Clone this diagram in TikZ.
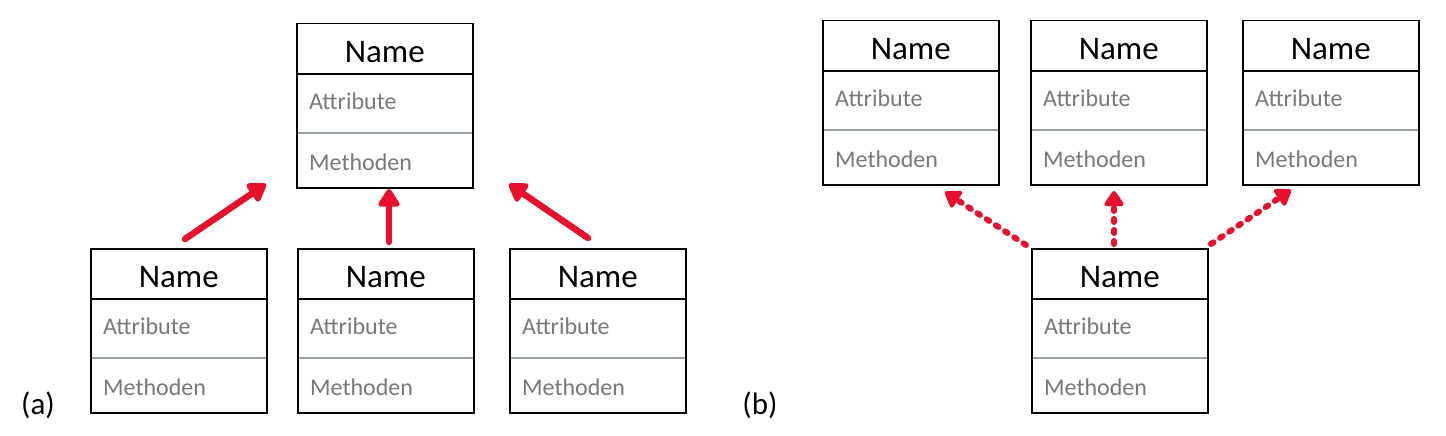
\documentclass[tikz,border=0pt]{standalone}
\usepackage{fontspec}
\setmainfont{Carlito}
\usetikzlibrary{arrows.meta}
\definecolor{umlred}{RGB}{232,17,45}
\definecolor{txtgray}{RGB}{120,120,120}
\definecolor{sepgray}{RGB}{150,160,162}
\tikzset{
  classbox/.style={draw=black, line width=1.5pt, minimum width=176pt, minimum height=164pt, inner sep=0pt},
  titletext/.style={font=\fontsize{33}{36}\selectfont, text=black, inner sep=0pt},
  attrtext/.style={font=\fontsize{24}{27}\selectfont, text=txtgray, inner sep=0pt},
  sepline/.style={draw=sepgray, line width=1.5pt},
  divline/.style={draw=black, line width=1.5pt},
  solidarrow/.style={draw=umlred, line width=6.5pt, line cap=round,
    -{Triangle[length=20pt,width=24pt,round]}},
  dotarrow/.style={draw=umlred, line width=6pt, line cap=round,
    dash pattern=on 3pt off 8pt,
    -{Triangle[length=17pt,width=22pt,round]}},
  caption/.style={font=\fontsize{31}{34}\selectfont, inner sep=0pt}
}
\newcommand\umlclass[3]{%
  \node[classbox, anchor=north west] (#1) at (#2,#3) {};
  \draw[divline] ([yshift=-51pt]#1.north west) -- ([yshift=-51pt]#1.north east);
  \draw[sepline] ([xshift=2pt,yshift=-110pt]#1.north west) -- ([xshift=-2pt,yshift=-110pt]#1.north east);
  \node[titletext] (#1-name) at ([yshift=-29pt]#1.north) {Name};
  \node[attrtext, anchor=west] (#1-attr) at ([xshift=13pt,yshift=-78pt]#1.north west) {Attribute};
  \node[attrtext, anchor=west] (#1-meth) at ([xshift=13pt,yshift=-139pt]#1.north west) {Methoden};
}
\begin{document}
\begin{tikzpicture}[x=1pt,y=-1pt]
\useasboundingbox (0,0) rectangle (1446,436);
% (a)
\umlclass{atop}{296}{23}
\umlclass{aone}{90}{248}
\umlclass{atwo}{297}{248}
\umlclass{athree}{509}{248}
% (b)
\umlclass{bone}{822}{20}
\umlclass{btwo}{1030}{20}
\umlclass{bthree}{1242}{20}
\umlclass{bbot}{1031}{248}
% captions
\node[caption] (capa) at (38,405) {(a)};
\node[caption] (capb) at (760,405) {(b)};
% arrow end points (a)
\coordinate (a1s) at (185,239);
\coordinate (a1e) at (266,184);
\coordinate (a2s) at (389,242);
\coordinate (a2e) at (389,189);
\coordinate (a3s) at (588,238);
\coordinate (a3e) at (509,184);
\draw[solidarrow] (a1s) -- (a1e);
\draw[solidarrow] (a2s) -- (a2e);
\draw[solidarrow] (a3s) -- (a3e);
% arrow end points (b)
\coordinate (b1s) at (1026,245);
\coordinate (b1e) at (945,192);
\coordinate (b2s) at (1114,244);
\coordinate (b2e) at (1114,191);
\coordinate (b3s) at (1211,244);
\coordinate (b3e) at (1291,190);
\draw[dotarrow] (b1s) -- (b1e);
\draw[dotarrow] (b2s) -- (b2e);
\draw[dotarrow] (b3s) -- (b3e);
\end{tikzpicture}
\end{document}
